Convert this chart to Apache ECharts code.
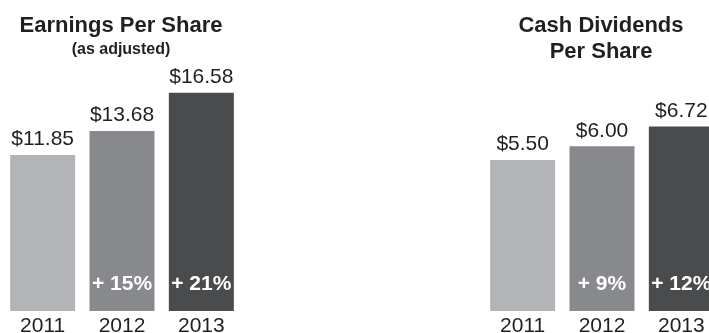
<!DOCTYPE html>
<html>
<head>
<meta charset="utf-8">
<script src="https://cdn.jsdelivr.net/npm/echarts@6/dist/echarts.min.js"></script>
<style>
  html, body { margin: 0; padding: 0; background: #ffffff; overflow: hidden; }
  #chart { width: 709px; height: 333px; }
</style>
</head>
<body>
<div id="chart"></div>
<script>
// Fiscal years shown on both panels
const years = ['2011', '2012', '2013'];

// Earnings per share (as adjusted), dollars
const epsValues = [11.85, 13.68, 16.58];
const epsGrowth = ['', '+ 15%', '+ 21%'];

// Cash dividends per share, dollars
const divValues = [5.50, 6.00, 6.72];
const divGrowth = ['', '+ 9%', '+ 12%'];

const barColors = ['#b3b4b8', '#88898d', '#4a4b4d'];
const textColor = '#231f20';
const fontFamily = '"Liberation Sans", Arial, Helvetica, sans-serif';

function buildData(values, growth) {
  return values.map((v, i) => ({
    value: v,
    growth: growth[i],
    itemStyle: { color: barColors[i] }
  }));
}

function panelSeries(xIndex, values, growth) {
  return [
    {
      type: 'bar',
      xAxisIndex: xIndex,
      yAxisIndex: xIndex,
      barWidth: 65,
      barGap: '-100%',
      data: buildData(values, growth),
      label: {
        show: true,
        position: 'top',
        distance: 5,
        fontFamily: fontFamily,
        fontSize: 21,
        color: textColor,
        formatter: p => '$' + p.value.toFixed(2)
      },
      silent: true
    },
    {
      // transparent overlay carrying the growth labels inside each bar
      type: 'bar',
      xAxisIndex: xIndex,
      yAxisIndex: xIndex,
      barWidth: 65,
      barGap: '-100%',
      data: values.map((v, i) => ({ value: v, growth: growth[i], itemStyle: { color: 'rgba(0,0,0,0)' } })),
      label: {
        show: true,
        position: 'insideBottom',
        distance: 16,
        fontFamily: fontFamily,
        fontSize: 21,
        fontWeight: 'bold',
        color: '#ffffff',
        formatter: p => p.data.growth
      },
      silent: true
    }
  ];
}

const chart = echarts.init(document.getElementById('chart'), null, { renderer: 'canvas' });

const axisCommon = {
  type: 'category',
  data: years,
  axisLine: { show: false },
  axisTick: { show: false },
  axisLabel: {
    fontFamily: fontFamily,
    fontSize: 21,
    color: textColor,
    margin: 5
  }
};

chart.setOption({
  animation: false,
  title: [
    {
      text: 'Earnings Per Share',
      subtext: '(as adjusted)',
      left: 116,
      top: 8,
      textAlign: 'center',
      itemGap: 2,
      textStyle: { fontFamily: fontFamily, fontSize: 22, fontWeight: 'bold', color: textColor, lineHeight: 26 },
      subtextStyle: { fontFamily: fontFamily, fontSize: 16, fontWeight: 'bold', color: textColor, lineHeight: 18 }
    },
    {
      text: 'Cash Dividends\nPer Share',
      left: 596,
      top: 8,
      textAlign: 'center',
      textStyle: { fontFamily: fontFamily, fontSize: 22, fontWeight: 'bold', color: textColor, lineHeight: 26 }
    }
  ],
  grid: [
    { left: 3, width: 238, top: 74, bottom: 22, containLabel: false, outerBoundsMode: 'none' },
    { left: 483, width: 238, top: 91.4, bottom: 22, containLabel: false, outerBoundsMode: 'none' }
  ],
  xAxis: [
    Object.assign({ gridIndex: 0 }, axisCommon),
    Object.assign({ gridIndex: 1 }, axisCommon)
  ],
  yAxis: [
    { type: 'value', gridIndex: 0, min: 0, max: 18, show: false },
    { type: 'value', gridIndex: 1, min: 0, max: 8, show: false }
  ],
  series: [
    ...panelSeries(0, epsValues, epsGrowth),
    ...panelSeries(1, divValues, divGrowth)
  ]
});
</script>
</body>
</html>
